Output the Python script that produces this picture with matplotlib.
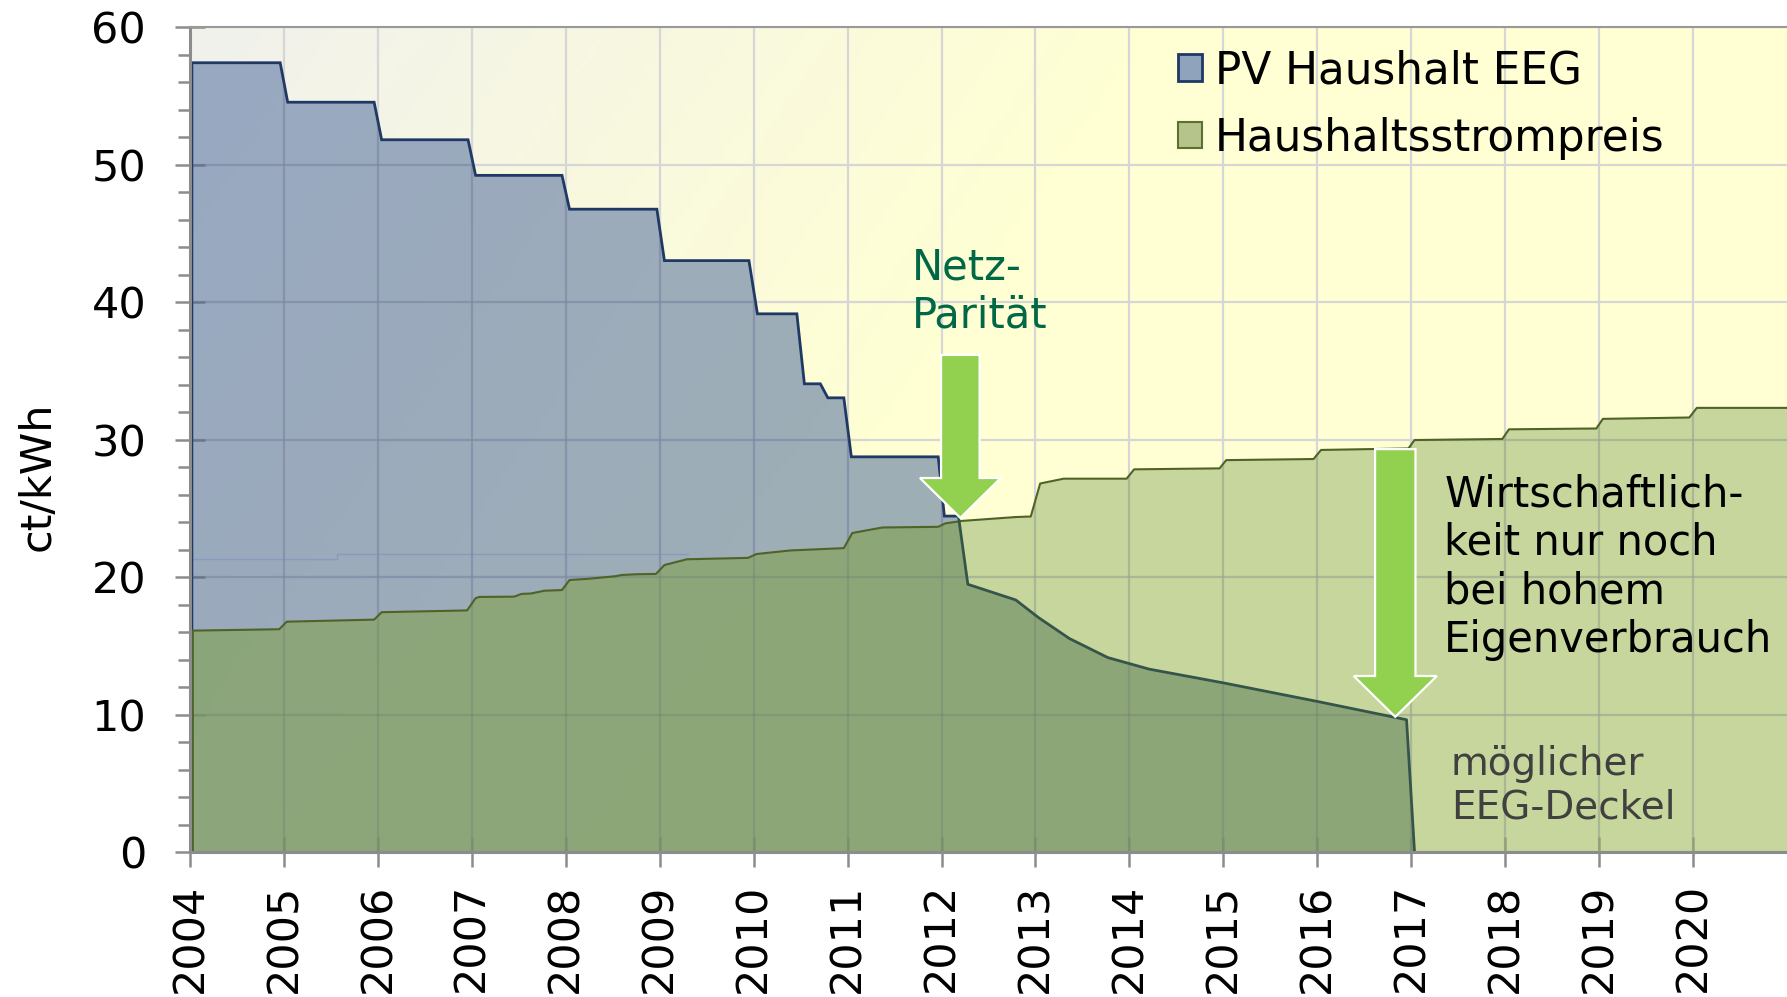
import numpy as np
import matplotlib
matplotlib.use("Agg")
import matplotlib.pyplot as plt
from matplotlib.patches import FancyArrow, Patch

# ---------------- data ----------------
eeg_x = [2004.02, 2004.96, 2005.04, 2005.96, 2006.04, 2006.96, 2007.04, 2007.96,
         2008.04, 2008.97, 2009.05, 2009.95, 2010.04, 2010.46, 2010.54, 2010.71,
         2010.79, 2010.96, 2011.04, 2011.965, 2012.03, 2012.18, 2012.28, 2012.79,
         2013.03, 2013.36, 2013.77, 2014.21, 2015.0, 2016.0, 2016.95, 2017.035]
eeg_y = [57.4, 57.4, 54.53, 54.53, 51.8, 51.8, 49.21, 49.21,
         46.75, 46.75, 43.01, 43.01, 39.14, 39.14, 34.05, 34.05,
         33.03, 33.03, 28.74, 28.74, 24.43, 24.43, 19.47, 18.33,
         17.06, 15.53, 14.14, 13.3, 12.3, 10.95, 9.62, 0.0]

strom_x = [2004.03, 2004.95, 2005.03, 2005.96, 2006.04, 2006.95, 2007.04, 2007.08,
           2007.45, 2007.53, 2007.63, 2007.77, 2007.96, 2008.04, 2008.24, 2008.52,
           2008.6, 2008.76, 2008.96, 2009.05, 2009.29, 2009.94, 2010.03, 2010.39,
           2010.96, 2011.05, 2011.37, 2011.965, 2012.04, 2012.22, 2012.79, 2012.95,
           2013.05, 2013.3, 2013.97, 2014.05, 2014.96, 2015.03, 2015.96, 2016.04,
           2016.97, 2017.035, 2017.97, 2018.04, 2018.97, 2019.04, 2019.96, 2020.04,
           2021.0]
strom_y = [16.1, 16.2, 16.75, 16.9, 17.44, 17.57, 18.46, 18.55,
           18.57, 18.77, 18.8, 19.0, 19.05, 19.78, 19.87, 20.05,
           20.15, 20.2, 20.22, 20.87, 21.29, 21.39, 21.67, 21.93,
           22.1, 23.2, 23.6, 23.65, 23.9, 24.08, 24.36, 24.4,
           26.8, 27.15, 27.15, 27.83, 27.9, 28.5, 28.58, 29.24,
           29.35, 29.96, 30.04, 30.74, 30.8, 31.5, 31.6, 32.3,
           32.3]

# faint helper line visible in the original
artefakt_x = [2004.03, 2005.56, 2005.56, 2009.3]
artefakt_y = [21.3, 21.3, 21.67, 21.67]

years = list(range(2004, 2021))
year_labels = [str(y) for y in years]
y_major = [0, 10, 20, 30, 40, 50, 60]

series_labels = ["PV Haushalt EEG", "Haushaltsstrompreis"]

# annotation arrows: (x centre, y start, y tip, shaft width, head width, head length)
arrow1 = dict(x=2012.2, y0=36.15, y1=24.3, w=0.41, hw=0.86, hl=2.9)
arrow2 = dict(x=2016.83, y0=29.3, y1=9.83, w=0.43, hw=0.885, hl=2.97)

assert len(eeg_x) == len(eeg_y) and len(strom_x) == len(strom_y)

# ---------------- figure ----------------
plt.rcParams["font.family"] = ["DejaVu Sans"]
W, H = 1787, 997
fig = plt.figure(figsize=(W / 100, H / 100), dpi=100)
ax = fig.add_axes([190 / W, 1 - 852 / H, (W - 190) / W, (852 - 27) / H])
ax.set_xlim(2004, 2021)
ax.set_ylim(0, 60)

# background gradient
nx, ny = 200, 100
u = np.linspace(0, 1, nx)[None, :]
v = np.linspace(0, 1, ny)[:, None]
t = np.clip((u + 0.35 * (1 - v)) / 0.6, 0, 1)
gray = np.array([0.945, 0.945, 0.93])
yel = np.array([1.0, 1.0, 0.83])
grad = gray[None, None, :] * (1 - t[..., None]) + yel[None, None, :] * t[..., None]
ax.imshow(grad, extent=(2004, 2021, 0, 60), origin="lower", aspect="auto", zorder=0)

# grid
ax.set_axisbelow(True)
ax.set_xticks(years)
ax.set_xticklabels(year_labels, rotation=90)
ax.set_yticks(y_major)
ax.set_yticks(np.arange(0, 61, 2), minor=True)
ax.grid(True, which="major", color="#d6d6d6", lw=1.6)

# fills
ex = np.array(eeg_x); ey = np.array(eeg_y)
sx = np.array(strom_x); sy = np.array(strom_y)
xs = np.union1d(np.union1d(ex, sx), np.linspace(ex[0], sx[-1], 5000))
e_i = np.interp(xs, ex, ey, left=0, right=0)
s_i = np.interp(xs, sx, sy, left=0, right=sy[-1])
low = np.minimum(e_i, s_i)
high = np.maximum(e_i, s_i)

blue_fill = (79 / 255, 108 / 255, 158 / 255)
ax.fill_between(ex, 0, ey, color=blue_fill, alpha=0.55, lw=0, zorder=1)
ax.fill_between(xs, e_i, s_i, where=s_i > e_i, interpolate=True,
                color=(160 / 255, 187 / 255, 120 / 255), alpha=0.6, lw=0, zorder=1.3)
ax.fill_between(xs, 0, low, color=(134 / 255, 163 / 255, 95 / 255), alpha=0.7,
                lw=0, zorder=1.4)

# faint grid overlay showing through the filled areas only
clip_poly = ax.fill_between(xs, 0, high, color="none", lw=0, zorder=0.1)
clip_path = clip_poly.get_paths()[0]
for yv in y_major[1:-1]:
    ln = ax.axhline(yv, color="#606060", lw=1.6, alpha=0.13, zorder=1.5)
    ln.set_clip_path(clip_path, ax.transData)
for xv in years[1:]:
    ln = ax.axvline(xv, color="#606060", lw=1.6, alpha=0.13, zorder=1.5)
    ln.set_clip_path(clip_path, ax.transData)

ax.plot(artefakt_x, artefakt_y, color="#7f95bf", lw=1.0, alpha=0.7, zorder=1.2)

# EEG line: navy while above Strompreis, dark green afterwards
line_x = np.concatenate([[ex[0]], ex])
line_y = np.concatenate([[0.0], ey])
below = line_y < np.interp(line_x, sx, sy, left=0)
k = int(np.argmax(below[2:])) + 2
ax.plot(line_x[:k], line_y[:k], color="#1f3864", lw=2.0, zorder=1.25,
        solid_joinstyle="miter")
ax.plot(line_x[k - 1:], line_y[k - 1:], color="#35554a", lw=2.0, zorder=2.1)

# Strompreis line
ax.plot(np.concatenate([[sx[0]], sx]), np.concatenate([[0.0], sy]),
        color="#4f6228", lw=1.5, zorder=2)

# arrows
for a in (arrow1, arrow2):
    ax.add_patch(FancyArrow(a["x"], a["y0"], 0, a["y1"] - a["y0"], width=a["w"],
                            head_width=a["hw"], head_length=a["hl"],
                            length_includes_head=True, facecolor="#92d050",
                            edgecolor="white", lw=1.6, zorder=3))

# texts
ax.text(2011.68, 44.05, "Netz-\nParität", color="#006747", fontsize=30,
        ha="left", va="top", zorder=4)
ax.text(2017.35, 27.55, "Wirtschaftlich-\nkeit nur noch\nbei hohem\nEigenverbrauch",
        color="black", fontsize=30, ha="left", va="top", zorder=4)
ax.text(2017.42, 7.8, "möglicher\nEEG-Deckel", color="#404040", fontsize=28,
        ha="left", va="top", zorder=4)

# axes styling
for s in ("left", "bottom"):
    ax.spines[s].set_color("#8c8c8c")
    ax.spines[s].set_linewidth(2.2)
ax.spines["top"].set_color("#999999")
ax.spines["top"].set_linewidth(1.5)
ax.spines["right"].set_visible(False)

ax.tick_params(which="major", direction="inout", length=21, width=1.8,
               color="#8c8c8c", labelsize=31, labelcolor="black")
ax.tick_params(axis="y", which="major", pad=21)
ax.tick_params(axis="x", which="major", pad=12)
ax.tick_params(axis="y", which="minor", direction="out", length=8.3, width=1.8,
               color="#8c8c8c")
ax.tick_params(axis="x", which="minor", bottom=False)

ax.set_ylabel("ct/kWh", fontsize=31)
ax.yaxis.set_label_coords(-0.082, 0.456)

# legend
handles = [Patch(facecolor="#8fa3bd", edgecolor="#1f3864", lw=2),
           Patch(facecolor="#b4c48a", edgecolor="#5b7131", lw=1.5)]
ax.legend(handles, series_labels, loc="upper left",
          bbox_to_anchor=(1178 / W, 1 - 49 / H), bbox_transform=fig.transFigure,
          frameon=False, fontsize=31.5, handlelength=0.55, handleheight=0.55,
          handletextpad=0.3, labelspacing=0.56, borderpad=0, borderaxespad=0)

fig.savefig("out.png", dpi=100)
